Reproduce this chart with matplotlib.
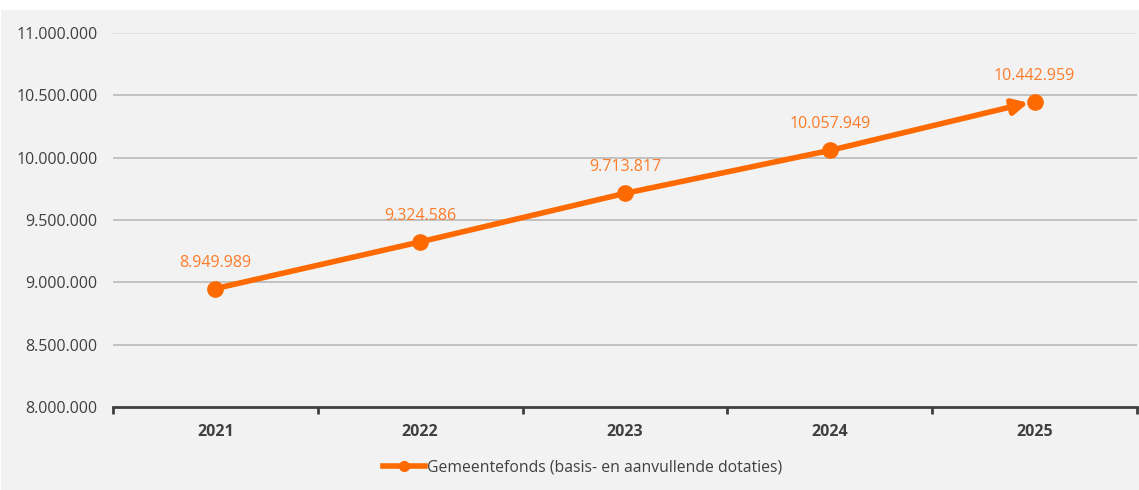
import matplotlib
matplotlib.use("Agg")
import matplotlib.pyplot as plt
from matplotlib.patches import Rectangle
from matplotlib.ticker import FuncFormatter, FixedLocator

years = ["2021", "2022", "2023", "2024", "2025"]
values = [8949989, 9324586, 9713817, 10057949, 10442959]
series_name = "Gemeentefonds (basis- en aanvullende dotaties)"
y_ticks = [8000000, 8500000, 9000000, 9500000, 10000000, 10500000, 11000000]

def nl(v):
    return f"{int(round(v)):,}".replace(",", ".")

plt.rcParams['font.family'] = ['Open Sans', 'DejaVu Sans']

W, H = 1139, 490
fig = plt.figure(figsize=(W / 100, H / 100), dpi=100)
fig.patch.set_facecolor("white")
fig.add_artist(Rectangle((1 / W, 0), (W - 1) / W, (H - 10) / H, transform=fig.transFigure,
                         facecolor="#f2f2f2", edgecolor="none", zorder=0))

ax = fig.add_axes([113 / W, 83 / H, (1137 - 113) / W, (457 - 83) / H])
ax.set_facecolor("none")

x = list(range(len(years)))
orange = "#ff6a00"
label_col = "#ff7b29"

ax.set_xlim(-0.5, len(years) - 0.5)
ax.set_ylim(8000000, 11000000)

for yt in y_ticks[1:]:
    col = "#dedede" if yt == 11000000 else "#bdbdbd"
    ax.axhline(yt, color=col, lw=1.3, zorder=1)

ax.plot(x[:-1], values[:-1], color=orange, lw=4, marker="o", ms=11, zorder=3, solid_capstyle="round")
ax.plot(x[-1], values[-1], color=orange, marker="o", ms=11, lw=0, zorder=3)
ax.annotate("", xy=(x[-1] - 0.03, values[-1] - 2000), xytext=(x[-2], values[-2]),
            arrowprops=dict(arrowstyle="-|>,head_length=0.9,head_width=0.45", color=orange, lw=4,
                            shrinkA=0, shrinkB=0), zorder=3)

for xi, v in zip(x, values):
    ax.annotate(nl(v), (xi, v), xytext=(0, 13), textcoords="offset points", ha="center",
                va="bottom", color=label_col, fontsize=11.5)

for s in ["top", "right", "left"]:
    ax.spines[s].set_visible(False)
ax.spines["bottom"].set_color("#404040")
ax.spines["bottom"].set_linewidth(2)

ax.yaxis.set_major_locator(FixedLocator(y_ticks))
ax.yaxis.set_major_formatter(FuncFormatter(lambda v, p: nl(v)))
ax.tick_params(axis="y", length=0, pad=11, labelsize=11.5, labelcolor="#404040")

ax.set_xticks([i - 0.5 for i in range(len(years) + 1)], minor=False)
ax.set_xticklabels([])
ax.tick_params(axis="x", which="major", direction="out", length=5, width=2, color="#404040")
ax.set_xticks(x, minor=True)
ax.set_xticklabels(years, minor=True)
ax.tick_params(axis="x", which="minor", length=0, pad=12, labelsize=11.5, labelcolor="#404040")
for t in ax.get_xticklabels(minor=True):
    t.set_fontweight("bold")

leg = fig.legend(handles=[plt.Line2D([], [], color=orange, lw=4, marker="o", ms=7)],
                 labels=[series_name], loc="center", bbox_to_anchor=(0.5 + 13 / W, 23 / H),
                 frameon=False, fontsize=11.3, handlelength=2.7, handletextpad=0.1,
                 labelcolor="#404040")

fig.savefig("out.png", dpi=100, facecolor=fig.get_facecolor())
